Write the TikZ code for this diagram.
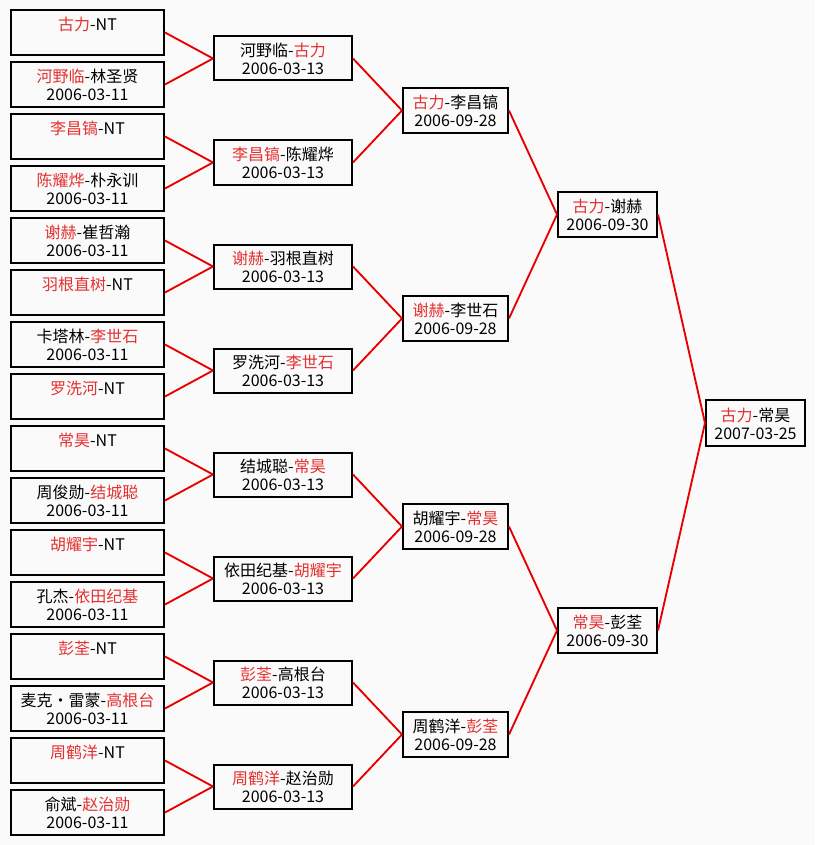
\documentclass[tikz,border=0pt]{standalone}
\usepackage{fontspec}
\setmainfont{Noto Sans CJK SC}
\definecolor{winred}{RGB}{228,48,48}
\definecolor{linkred}{RGB}{232,0,0}
\definecolor{paper}{RGB}{250,250,250}
\newcommand\win[1]{\textcolor{winred}{#1}}
\newcommand\toprule{\rule{0pt}{14.6pt}}
\tikzset{
  match/.style={draw, line width=1.5pt, align=center, inner sep=0pt,
    font=\fontsize{12}{13.5}\selectfont},
  r1/.style={match, minimum width=114.75pt, minimum height=33.75pt},
  r2/.style={match, minimum width=103.5pt, minimum height=33pt},
  r3/.style={match, minimum width=78.75pt, minimum height=33.75pt},
  r4/.style={match, minimum width=74.25pt, minimum height=33.75pt},
  r5/.style={match, minimum width=74.25pt, minimum height=34.5pt},
  link/.style={draw=linkred, line width=1.4pt},
}
\begin{document}
\begin{tikzpicture}[x=.75pt, y=-.75pt]
  \fill[paper] (0,0) rectangle (815,845);

  % first round
  \foreach \txt/\day [count=\i from 0] in {
      {\win{古力}-NT}/{},
      {\win{河野临}-林圣贤}/{2006-03-11},
      {\win{李昌镐}-NT}/{},
      {\win{陈耀烨}-朴永训}/{2006-03-11},
      {\win{谢赫}-崔哲瀚}/{2006-03-11},
      {\win{羽根直树}-NT}/{},
      {卡塔林-\win{李世石}}/{2006-03-11},
      {\win{罗洗河}-NT}/{},
      {\win{常昊}-NT}/{},
      {周俊勋-\win{结城聪}}/{2006-03-11},
      {\win{胡耀宇}-NT}/{},
      {孔杰-\win{依田纪基}}/{2006-03-11},
      {\win{彭荃}-NT}/{},
      {麦克・雷蒙-\win{高根台}}/{2006-03-11},
      {\win{周鹤洋}-NT}/{},
      {俞斌-\win{赵治勋}}/{2006-03-11}}
    \node[r1] (a\i) at (87.5, 32.5+52*\i) {\toprule\txt\\\strut\day};

  % second round
  \foreach \txt [count=\i from 0] in {
      {河野临-\win{古力}},
      {\win{李昌镐}-陈耀烨},
      {\win{谢赫}-羽根直树},
      {罗洗河-\win{李世石}},
      {结城聪-\win{常昊}},
      {依田纪基-\win{胡耀宇}},
      {\win{彭荃}-高根台},
      {\win{周鹤洋}-赵治勋}}
    \node[r2] (b\i) at (283, 58.5+104*\i) {\toprule\txt\\\strut 2006-03-13};

  % quarter finals
  \foreach \txt [count=\i from 0] in {
      {\win{古力}-李昌镐},
      {\win{谢赫}-李世石},
      {胡耀宇-\win{常昊}},
      {周鹤洋-\win{彭荃}}}
    \node[r3] (c\i) at (455.5, 110.5+208*\i) {\toprule\txt\\\strut 2006-09-28};

  % semi finals
  \node[r4] (d0) at (607.5, 214.5) {\toprule\win{古力}-谢赫\\\strut 2006-09-30};
  \node[r4] (d1) at (607.5, 630.5) {\toprule\win{常昊}-彭荃\\\strut 2006-09-30};

  % final
  \node[r5] (e0) at (755.5, 423) {\toprule\win{古力}-常昊\\\strut 2007-03-25};

  % links
  \foreach \from/\to/\n in {a/b/15, b/c/7, c/d/3, d/e/1}
    \foreach \i in {0,...,\n} {
      \pgfmathtruncatemacro\j{\i/2}
      \draw[link] (\from\i.east) -- (\to\j.west);
    }
\end{tikzpicture}
\end{document}
